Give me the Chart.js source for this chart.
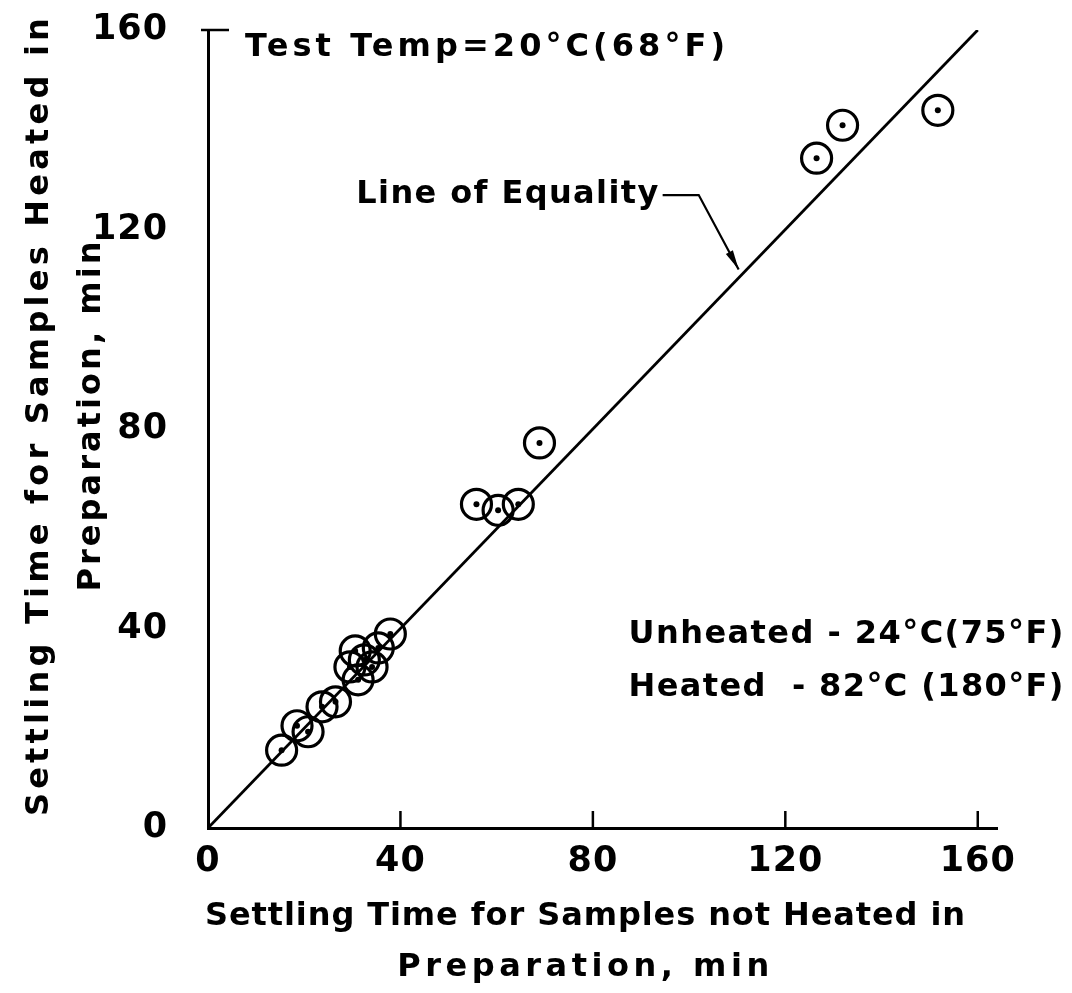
<!DOCTYPE html>
<html>
<head>
<meta charset="utf-8">
<script src="https://cdn.jsdelivr.net/npm/chart.js@4.4.1/dist/chart.umd.min.js"></script>
<style>
  html, body { margin: 0; padding: 0; background: #fff; }
  #wrap { width: 1072px; height: 993px; }
</style>
</head>
<body>
<div id="wrap"><canvas id="chart" width="1072" height="993"></canvas></div>
<script>
// settling time, not heated (x) vs heated (y), minutes
const notHeated = [15.3, 18.5, 20.8, 23.7, 26.5, 29.5, 30.6, 31.2, 32.5, 34.1, 35.4, 37.9, 55.8, 60.3, 64.5, 68.9, 126.5, 131.9, 151.7];
const heated    = [15.6, 20.5, 19.3, 24.3, 25.3, 32.3, 35.5, 29.7, 33.7, 32.3, 36.1, 38.9, 64.9, 63.7, 64.9, 77.2, 134.3, 140.9, 143.9];

// line of equality
const equalityX = [0, 160];
const equalityY = [0, 160];

const xTicks = [0, 40, 80, 120, 160];
const yTicks = [0, 40, 80, 120, 160];

const xTitle = ['Settling Time for Samples not Heated in', 'Preparation, min'];
const yTitle = ['Settling Time for Samples Heated in', 'Preparation, min'];

const FONT = "'DejaVu Sans', sans-serif";

const points = notHeated.map((x, i) => ({ x: x, y: heated[i] }));
const eqLine = equalityX.map((x, i) => ({ x: x, y: equalityY[i] }));

// draw text stretched to a given width with letter spacing
function spaced(ctx, text, x, y, width) {
    ctx.letterSpacing = '0px';
    const w = ctx.measureText(text).width;
    const sp = Math.max(0, (width - w) / (text.length - 1));
    ctx.letterSpacing = sp + 'px';
    ctx.fillText(text, x, y);
    ctx.letterSpacing = '0px';
}

// no extra room for tick labels at the ends of the axes
function noEdgePadding(s) {
    s.paddingTop = 0;
    s.paddingBottom = 0;
    s.paddingLeft = 0;
    s.paddingRight = 0;
}

const notesPlugin = {
    id: 'notes',
    beforeDraw(chart) {
        chart.ctx.letterSpacing = '1px';
    },
    afterDraw(chart) {
        const ctx = chart.ctx;
        const xs = chart.scales.x, ys = chart.scales.y;
        const px = v => xs.getPixelForValue(v);
        const py = v => ys.getPixelForValue(v);

        ctx.save();
        ctx.strokeStyle = '#000';
        ctx.lineWidth = 2.5;

        // inward ticks on x axis
        xTicks.forEach(t => {
            if (t === 0) return;
            ctx.beginPath();
            ctx.moveTo(px(t), py(0));
            ctx.lineTo(px(t), py(0) - 17);
            ctx.stroke();
        });
        // cap at top of y axis
        ctx.beginPath();
        ctx.moveTo(px(0) - 7, py(160));
        ctx.lineTo(px(0) + 21, py(160));
        ctx.stroke();

        // leader + arrow for line of equality
        ctx.lineWidth = 2.2;
        const a0 = [px(94.5), py(126.9)];
        const a1 = [px(102), py(126.9)];
        const a2 = [px(110.3), py(112.0)];
        ctx.beginPath();
        ctx.moveTo(a0[0], a0[1]);
        ctx.lineTo(a1[0], a1[1]);
        ctx.lineTo(a2[0], a2[1]);
        ctx.stroke();
        const ang = Math.atan2(a2[1] - a1[1], a2[0] - a1[0]);
        ctx.beginPath();
        ctx.moveTo(a2[0], a2[1]);
        ctx.lineTo(a2[0] - 20 * Math.cos(ang - 0.2), a2[1] - 20 * Math.sin(ang - 0.2));
        ctx.lineTo(a2[0] - 20 * Math.cos(ang + 0.2), a2[1] - 20 * Math.sin(ang + 0.2));
        ctx.closePath();
        ctx.fillStyle = '#000';
        ctx.fill();

        // notes
        ctx.fillStyle = '#000';
        ctx.textBaseline = 'middle';
        ctx.font = 'bold 32px ' + FONT;
        ctx.textAlign = 'left';
        spaced(ctx, 'Test Temp=20°C(68°F)', px(7.7), py(156.4), 480);
        spaced(ctx, 'Unheated - 24°C(75°F)', px(87.4), py(38.8), 435);
        spaced(ctx, 'Heated  - 82°C (180°F)', px(87.4), py(28.2), 435);
        spaced(ctx, 'Line of Equality', px(93.6) - 302, py(126.9), 302);

        // axis titles
        ctx.font = 'bold 32px ' + FONT;
        ctx.textAlign = 'center';
        const cx = (chart.chartArea.left + chart.chartArea.right) / 2 - 17;
        spaced(ctx, xTitle[0], cx, 917, 760);
        spaced(ctx, xTitle[1], cx, 968, 372);

        const cy = (chart.chartArea.top + chart.chartArea.bottom) / 2 - 14;
        ctx.translate(40, cy);
        ctx.rotate(-Math.PI / 2);
        spaced(ctx, yTitle[0], 0, 0, 798);
        ctx.translate(0, 52);
        spaced(ctx, yTitle[1], 0, 0, 350);
        ctx.restore();
    }
};

new Chart(document.getElementById('chart').getContext('2d'), {
    type: 'scatter',
    data: {
        datasets: [
            {
                type: 'line',
                data: eqLine,
                borderColor: '#000',
                borderWidth: 2.8,
                pointRadius: 0,
                fill: false
            },
            {
                data: points,
                pointStyle: 'circle',
                pointRadius: 15,
                pointBorderWidth: 3.2,
                borderColor: '#000',
                backgroundColor: 'rgba(0,0,0,0)'
            },
            {
                data: points,
                pointStyle: 'circle',
                pointRadius: 3,
                pointBorderWidth: 0,
                backgroundColor: '#000'
            }
        ]
    },
    options: {
        responsive: false,
        devicePixelRatio: 1,
        animation: false,
        layout: { padding: { top: 30, right: 75, left: 0, bottom: 0 } },
        plugins: {
            legend: { display: false },
            tooltip: { enabled: false }
        },
        scales: {
            x: {
                type: 'linear',
                min: 0,
                max: 164,
                afterBuildTicks: s => { s.ticks = xTicks.map(v => ({ value: v })); },
                afterFit: s => { s.height = 165; noEdgePadding(s); },
                grid: { drawOnChartArea: false, drawTicks: false },
                border: { display: true, color: '#000', width: 3 },
                ticks: { color: '#000', padding: 13, font: { family: FONT, size: 35, weight: 'bold' } }
            },
            y: {
                type: 'linear',
                min: 0,
                max: 160,
                afterBuildTicks: s => { s.ticks = yTicks.map(v => ({ value: v })); },
                afterFit: s => { s.width = 208; noEdgePadding(s); },
                grid: { drawOnChartArea: false, drawTicks: false },
                border: { display: true, color: '#000', width: 3 },
                ticks: { color: '#000', padding: 40, font: { family: FONT, size: 35, weight: 'bold' } }
            }
        }
    },
    plugins: [notesPlugin]
});
</script>
</body>
</html>
